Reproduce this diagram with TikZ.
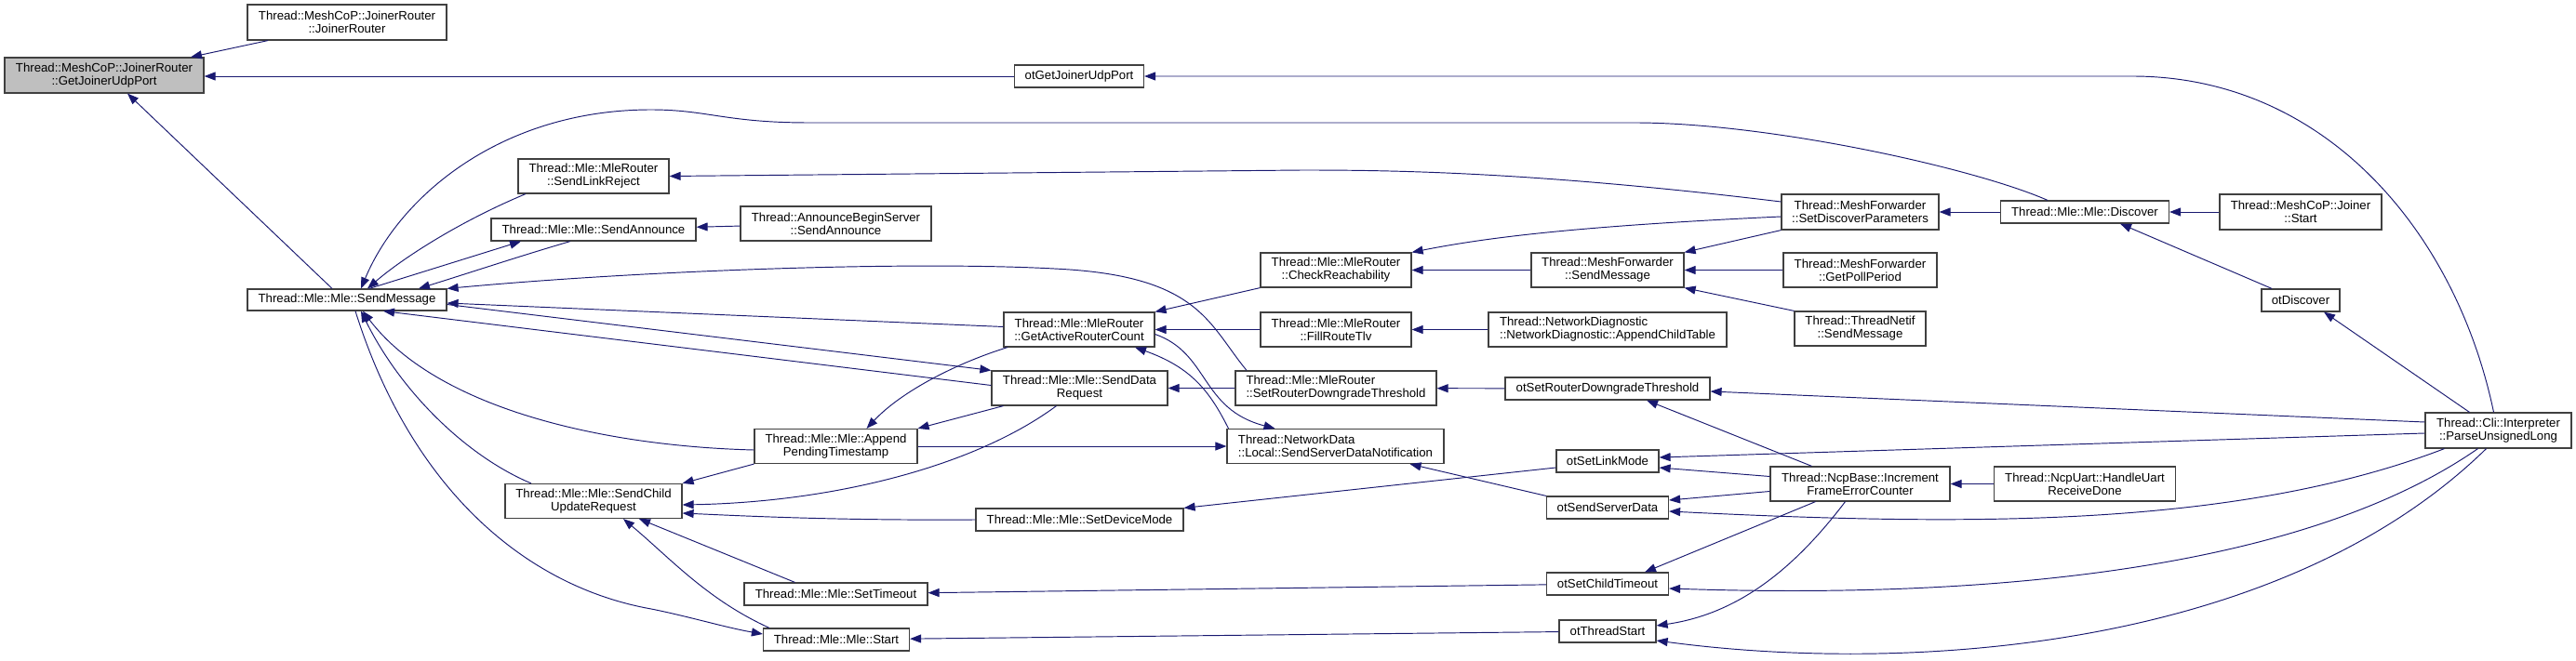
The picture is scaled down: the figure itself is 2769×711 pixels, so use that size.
\documentclass[tikz,border=0pt]{standalone}
\usepackage{fontspec}
\setmainfont{Liberation Sans}
\usetikzlibrary{arrows.meta}
\definecolor{edgeblue}{HTML}{191970}
\definecolor{boxgray}{HTML}{BFBFBF}
\begin{document}
\begin{tikzpicture}[x=1pt,y=-1pt,
  fn/.style={draw=black!75, line width=1.2pt, fill=white, inner sep=0pt, align=center, font=\fontsize{13.2}{14}\selectfont},
  fnl/.style={fn, align=left},
  edge/.style={draw=edgeblue, line width=0.95pt, -{Triangle[length=12pt,width=9pt]}},
]
\fill[white] (0,0) rectangle (2769,711);
\useasboundingbox (0,0) rectangle (2769,711);

% nodes
\node[fn, fill=boxgray, minimum width=214pt, minimum height=38pt] (gjup) at (112,81) {Thread::MeshCoP::JoinerRouter\\::GetJoinerUdpPort};
\node[fn, minimum width=214pt, minimum height=38pt] (jrjr) at (373,24) {Thread::MeshCoP::JoinerRouter\\::JoinerRouter};
\node[fn, minimum width=214pt, minimum height=23pt] (sm) at (373,322.5) {Thread::Mle::Mle::SendMessage};
\node[fn, minimum width=162pt, minimum height=37pt] (slr) at (638,189.5) {Thread::Mle::MleRouter\\::SendLinkReject};
\node[fn, minimum width=220pt, minimum height=24pt] (sa) at (638,247) {Thread::Mle::Mle::SendAnnounce};
\node[fn, minimum width=205pt, minimum height=37pt] (abs) at (898.5,240.5) {Thread::AnnounceBeginServer\\::SendAnnounce};
\node[fn, minimum width=139pt, minimum height=24pt] (otgjup) at (1160,82) {otGetJoinerUdpPort};
\node[fn, minimum width=175pt, minimum height=37pt] (apt) at (898.5,480) {Thread::Mle::Mle::Append\\PendingTimestamp};
\node[fn, minimum width=190pt, minimum height=37pt] (scur) at (638,539) {Thread::Mle::Mle::SendChild\\UpdateRequest};
\node[fn, minimum width=197pt, minimum height=24pt] (settimeout) at (898.5,639) {Thread::Mle::Mle::SetTimeout};
\node[fn, minimum width=157pt, minimum height=24pt] (start) at (899,688) {Thread::Mle::Mle::Start};
\node[fn, minimum width=162pt, minimum height=37pt] (gar) at (1160,354.5) {Thread::Mle::MleRouter\\::GetActiveRouterCount};
\node[fn, minimum width=189pt, minimum height=37pt] (sdr) at (1160.5,417.5) {Thread::Mle::Mle::SendData\\Request};
\node[fn, minimum width=223pt, minimum height=24pt] (sdm) at (1160.5,559) {Thread::Mle::Mle::SetDeviceMode};
\node[fn, minimum width=162pt, minimum height=37pt] (cr) at (1436,290.5) {Thread::Mle::MleRouter\\::CheckReachability};
\node[fn, minimum width=162pt, minimum height=37pt] (frt) at (1436,354.5) {Thread::Mle::MleRouter\\::FillRouteTlv};
\node[fnl, minimum width=216pt, minimum height=37pt] (srdt) at (1436,417.5) {Thread::Mle::MleRouter\\::SetRouterDowngradeThreshold};
\node[fnl, minimum width=233pt, minimum height=37pt] (ssdn) at (1435.5,480) {Thread::NetworkData\\::Local::SendServerDataNotification};
\node[fn, minimum width=164pt, minimum height=37pt] (mfsm) at (1728,290.5) {Thread::MeshForwarder\\::SendMessage};
\node[fnl, minimum width=256pt, minimum height=37pt] (act) at (1728,354.5) {Thread::NetworkDiagnostic\\::NetworkDiagnostic::AppendChildTable};
\node[fn, minimum width=220pt, minimum height=24pt] (otsrdt) at (1728,418) {otSetRouterDowngradeThreshold};
\node[fn, minimum width=110pt, minimum height=24pt] (otslm) at (1728,496) {otSetLinkMode};
\node[fn, minimum width=131pt, minimum height=24pt] (otssd) at (1728,546) {otSendServerData};
\node[fn, minimum width=131pt, minimum height=24pt] (otsct) at (1728,628) {otSetChildTimeout};
\node[fn, minimum width=104pt, minimum height=24pt] (otts) at (1728,679) {otThreadStart};
\node[fn, minimum width=169pt, minimum height=38pt] (sdp) at (1999.5,228) {Thread::MeshForwarder\\::SetDiscoverParameters};
\node[fn, minimum width=165pt, minimum height=37pt] (gpp) at (1999.5,290.5) {Thread::MeshForwarder\\::GetPollPeriod};
\node[fn, minimum width=141pt, minimum height=37pt] (tnsm) at (1999.5,353.5) {Thread::ThreadNetif\\::SendMessage};
\node[fn, minimum width=193pt, minimum height=37pt] (ifec) at (1999.5,520.5) {Thread::NcpBase::Increment\\FrameErrorCounter};
\node[fn, minimum width=181pt, minimum height=24pt] (discover) at (2241,228) {Thread::Mle::Mle::Discover};
\node[fn, minimum width=174pt, minimum height=38pt] (jstart) at (2473,228) {Thread::MeshCoP::Joiner\\::Start};
\node[fn, minimum width=84pt, minimum height=24pt] (otdiscover) at (2473,323) {otDiscover};
\node[fn, minimum width=195pt, minimum height=37pt] (hurd) at (2241,520.5) {Thread::NcpUart::HandleUart\\ReceiveDone};
\node[fn, minimum width=157pt, minimum height=38pt] (pul) at (2685.5,463) {Thread::Cli::Interpreter\\::ParseUnsignedLong};

% edges (arrow at callee)
\draw[edge] ([xshift=-85pt]jrjr.south) -- ([xshift=93pt]gjup.north);
\draw[edge] (otgjup) -- (gjup.east |- otgjup);
\draw[edge] ([xshift=-16pt]sm.north) -- ([xshift=25pt]gjup.south);
\draw[edge] ([xshift=-5pt]pul.north) .. controls (2640,250) and (2500,82) .. (2292,82) -- (otgjup.east);
\draw[edge] ([xshift=-40pt]discover.north) .. controls (2120,180) and (1900,132) .. (1757,132) -- (870,132) .. controls (780,132) and (760,118) .. (700,118) .. controls (540,118) and (430,210) .. ([xshift=15pt]sm.north);
\draw[edge] ([xshift=-73pt]slr.south) .. controls (490,240) and (430,280) .. ([xshift=22pt]sm.north);
\draw[edge] ([xshift=24pt]sm.north) -- ([xshift=-78pt]sa.south);
\draw[edge] ([xshift=-25pt]sa.south) .. controls (560,275) and (500,295) .. ([xshift=77pt]sm.north);
\draw[edge] (abs) -- (sa);
\draw[edge] ([yshift=11pt]sdp.west) .. controls (1650,185) and (1500,183) .. (1400,183) -- (slr.east);
\draw[edge] ([xshift=-96pt]srdt.north) .. controls (1300,350) and (1290,300) .. (1150,290) .. controls (1000,280) and (700,290) .. (sm.north east);
\draw[edge] ([yshift=3pt]gar.west) -- ([yshift=-3.5pt]sm.east);
\draw[edge] ([yshift=-5pt]sm.east) -- (sdr.north west);
\draw[edge] ([yshift=3pt]sdr.west) -- ([xshift=39pt]sm.south);
\draw[edge] ([yshift=-4pt]apt.west) .. controls (650,480) and (470,440) .. ([xshift=17pt]sm.south);
\draw[edge] ([xshift=-67pt]scur.north) .. controls (500,490) and (430,420) .. ([xshift=15pt]sm.south);
\draw[edge] ([xshift=9pt]sm.south) .. controls (440,520) and (560,630) .. (700,655) .. controls (740,663) and (780,675) .. ([yshift=6pt]start.west);
\draw[edge] (cr.south west) -- (gar.north east);
\draw[edge] (frt) -- (gar);
\draw[edge] ([xshift=-115pt]ssdn.north) .. controls (1300,420) and (1280,395) .. ([xshift=60pt]gar.south);
\draw[edge] ([yshift=-5pt]gar.east) .. controls (1300,380) and (1290,440) .. ([xshift=-65pt]ssdn.north);
\draw[edge] ([xshift=-77pt]gar.south) .. controls (1030,390) and (970,420) .. ([xshift=33pt]apt.north);
\draw[edge] ([xshift=-82pt]sdr.south) -- (apt.north east);
\draw[edge] (apt) -- (ssdn);
\draw[edge] (apt.south west) -- (scur.north east);
\draw[edge] ([xshift=-25pt]sdr.south) .. controls (1050,500) and (900,540) .. ([yshift=-4pt]scur.east);
\draw[edge] (sdm.west) .. controls (900,560) and (800,555) .. ([yshift=-13pt]scur.east);
\draw[edge] ([xshift=-44pt]settimeout.north) -- ([xshift=49pt]scur.south);
\draw[edge] ([xshift=-72pt]start.north) .. controls (760,645) and (720,600) .. ([xshift=32pt]scur.south);
\draw[edge] (srdt) -- (sdr);
\draw[edge] (otsct) -- (settimeout);
\draw[edge] (otts) -- (start);
\draw[edge] (otsrdt) -- (srdt);
\draw[edge] (otssd.north west) -- ([xshift=80pt]ssdn.south);
\draw[edge] ([yshift=-7pt]otslm.west) -- (sdm.north east);
\draw[edge] (mfsm) -- (cr);
\draw[edge] ([yshift=-5pt]sdp.west) .. controls (1700,243) and (1600,255) .. (cr.north east);
\draw[edge] (frt.east -| act.west) -- (frt.east);
\draw[edge] (sdp.south west) -- (mfsm.north east);
\draw[edge] (gpp) -- (mfsm);
\draw[edge] (tnsm.north west) -- (mfsm.south east);
\draw[edge] (discover) -- (sdp);
\draw[edge] (jstart) -- (discover);
\draw[edge] ([xshift=-31pt]otdiscover.north) -- ([xshift=38pt]discover.south);
\draw[edge] ([xshift=-31pt]pul.north) -- ([xshift=25pt]otdiscover.south);
\draw[edge] ([yshift=9pt]pul.west) -- ([yshift=-3pt]otsrdt.east);
\draw[edge] ([xshift=-52pt]ifec.north) -- ([xshift=42pt]otsrdt.south);
\draw[edge] ([yshift=-3pt]pul.west) -- ([yshift=4pt]otslm.east);
\draw[edge] ([yshift=8pt]ifec.west) -- ([yshift=-7pt]otslm.east);
\draw[edge] ([yshift=-8pt]ifec.west) -- ([yshift=8pt]otssd.east);
\draw[edge] ([xshift=-58pt]pul.south) .. controls (2400,570) and (2100,565) .. ([yshift=-4pt]otssd.east);
\draw[edge] ([xshift=-48pt]ifec.south) -- ([xshift=40pt]otsct.north);
\draw[edge] ([xshift=-22pt]pul.south) .. controls (2480,610) and (2150,645) .. ([yshift=-5pt]otsct.east);
\draw[edge] ([xshift=-16pt]ifec.south) .. controls (1930,610) and (1870,660) .. ([yshift=6pt]otts.east);
\draw[edge] ([xshift=-13pt]pul.south) .. controls (2450,700) and (2050,725) .. ([yshift=-10pt]otts.east);
\draw[edge] (hurd) -- (ifec);
\end{tikzpicture}
\end{document}
